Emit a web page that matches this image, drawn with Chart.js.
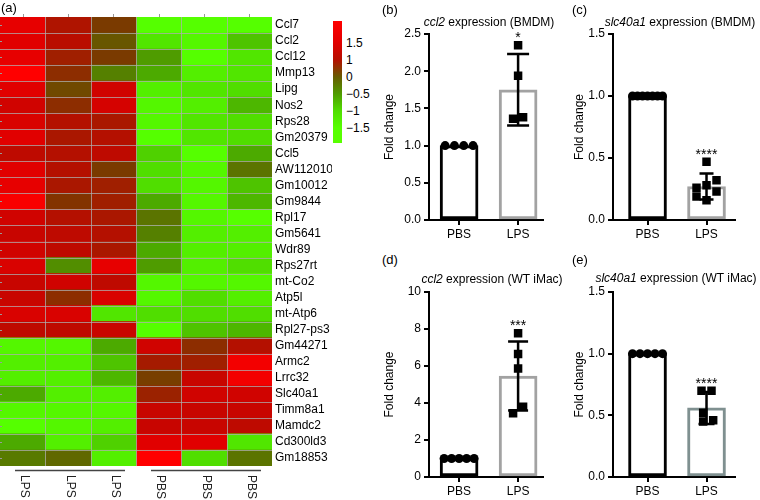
<!DOCTYPE html>
<html>
<head>
<meta charset="utf-8">
<script src="https://cdn.jsdelivr.net/npm/chart.js@4"></script>
<style>
  body { margin: 0; background: #fff; font-family: "Liberation Sans", Arial, sans-serif; }
  #wrap { position: relative; width: 760px; height: 500px; overflow: hidden; }
  canvas { position: absolute; }
  .txt { position: absolute; font-size: 12px; color: #000; white-space: nowrap; line-height: 14px; }
  .ttl { transform: translateX(-50%); }
  #cbar { position: absolute; left: 333px; top: 21px; width: 9px; height: 122px; }
</style>
</head>
<body>
<div id="wrap">
  <canvas id="heat" width="332" height="500" style="left:0;top:0"></canvas>
  <div id="cbar"></div>
</div>
<script>
// ---- heatmap data ----
const genes = ['Ccl7', 'Ccl2', 'Ccl12', 'Mmp13', 'Lipg', 'Nos2', 'Rps28', 'Gm20379', 'Ccl5',
  'AW112010', 'Gm10012', 'Gm9844', 'Rpl17', 'Gm5641', 'Wdr89', 'Rps27rt', 'mt-Co2', 'Atp5l',
  'mt-Atp6', 'Rpl27-ps3', 'Gm44271', 'Armc2', 'Lrrc32', 'Slc40a1', 'Timm8a1', 'Mamdc2',
  'Cd300ld3', 'Gm18853'];
const samples = ['LPS', 'LPS', 'LPS', 'PBS', 'PBS', 'PBS'];
const zScores = [
  [1.6, 0.95, 0.4, -1.4, -1.4, -1.4],
  [1.5, 1.05, 0.05, -1.1, -1.3, -0.8],
  [1.6, 0.8, 0.4, -0.5, -1.4, -1.1],
  [2.0, 0.6, -0.3, -0.6, -1.2, -1.1],
  [1.5, 0.2, 1.3, -1.2, -1.1, -1.0],
  [1.3, 0.6, 1.35, -1.3, -1.2, -0.7],
  [1.4, 1.0, 0.9, -1.3, -1.1, -1.0],
  [1.5, 0.9, 1.0, -1.4, -1.1, -1.0],
  [1.1, 1.0, 1.1, -0.9, -1.4, -0.6],
  [1.5, 1.0, 0.4, -1.0, -1.3, -0.2],
  [1.6, 0.9, 0.8, -1.0, -1.3, -0.8],
  [1.9, 0.5, 0.8, -0.6, -1.3, -0.7],
  [1.3, 1.0, 0.9, -0.2, -1.3, -1.5],
  [1.2, 1.1, 1.0, -0.3, -1.2, -1.2],
  [1.3, 1.1, 0.9, -0.6, -1.2, -1.2],
  [1.4, -0.4, 1.6, -0.5, -1.2, -1.0],
  [1.2, 1.3, 1.1, -1.3, -1.3, -1.3],
  [1.2, 0.6, 1.4, -1.3, -1.0, -1.2],
  [1.4, 1.4, -1.1, -1.0, -1.0, -1.0],
  [1.1, 1.1, 1.2, -1.4, -0.8, -0.7],
  [-1.3, -1.3, -0.6, 1.3, 0.6, 1.0],
  [-1.2, -1.2, -0.8, 0.85, 0.8, 1.8],
  [-1.2, -1.2, -0.7, 0.35, 1.2, 1.8],
  [-0.6, -1.2, -1.2, 0.75, 1.3, 1.3],
  [-1.3, -1.3, -1.3, 1.2, 1.2, 1.2],
  [-1.4, -1.3, -1.2, 1.2, 1.2, 1.1],
  [-0.6, -1.2, -0.9, 1.5, 1.5, -1.1],
  [-0.25, -0.1, -1.2, 2.0, -1.0, -0.2]
];
const colorbarTicks = [1.5, 1, 0, -0.5, -1, -1.5];

// ---- qPCR bar panels ----
const groups = ['PBS', 'LPS'];
const panelGenes = ['ccl2', 'slc40a1', 'ccl2', 'slc40a1'];
const panelCells = ['BMDM', 'BMDM', 'WT iMac', 'WT iMac'];
const ccl2BmdmPbs = [1, 1, 1, 1];
const ccl2BmdmLps = [2.35, 1.94, 1.36, 1.38];
const ccl2BmdmMean = [1, 1.75];
const ccl2BmdmSd = [0, 0.48];
const slcBmdmPbs = [1, 1, 1, 1, 1, 1, 1];
const slcBmdmLps = [0.47, 0.28, 0.23, 0.26, 0.32, 0.16, 0.19];
const slcBmdmMean = [1, 0.27];
const slcBmdmSd = [0, 0.105];
const ccl2ImacPbs = [1, 1, 1, 1, 1];
const ccl2ImacLps = [7.77, 6.65, 5.87, 3.44, 3.8];
const ccl2ImacMean = [1, 5.46];
const ccl2ImacSd = [0, 1.86];
const slcImacPbs = [1, 1, 1, 1, 1];
const slcImacLps = [0.70, 0.70, 0.52, 0.45, 0.46];
const slcImacMean = [1, 0.56];
const slcImacSd = [0, 0.13];
const significance = ['*', '****', '***', '****'];

const FONT = '"Liberation Sans", Arial, sans-serif';
const wrap = document.getElementById('wrap');

function addText(html, left, top, cls = '') {
  const d = document.createElement('div');
  d.className = 'txt ' + cls;
  d.style.left = left + 'px';
  d.style.top = top + 'px';
  d.innerHTML = html;
  wrap.appendChild(d);
  return d;
}

// colour scale for the heatmap (green - olive - brown - red)
const heatStops = [
  [-2.0, [88, 255, 0]], [-1.4, [85, 255, 0]], [-1.0, [80, 222, 0]], [-0.6, [76, 170, 0]],
  [-0.3, [85, 128, 0]], [0.1, [107, 80, 0]], [0.4, [122, 58, 0]], [0.7, [150, 38, 0]],
  [1.0, [180, 16, 0]], [1.2, [200, 5, 0]], [1.5, [225, 0, 0]], [2.0, [255, 0, 0]]
];
function heatColor(v) {
  if (v <= heatStops[0][0]) return 'rgb(' + heatStops[0][1] + ')';
  for (let i = 1; i < heatStops.length; i++) {
    const [v1, c1] = heatStops[i];
    const [v0, c0] = heatStops[i - 1];
    if (v <= v1) {
      const t = (v - v0) / (v1 - v0);
      return 'rgb(' + c0.map((c, k) => Math.round(c + (c1[k] - c) * t)).join(',') + ')';
    }
  }
  return 'rgb(' + heatStops[heatStops.length - 1][1] + ')';
}

// cell grid, edge ticks, group bars and rotated sample labels
const heatDecor = {
  id: 'heatDecor',
  afterDatasetsDraw(chart) {
    const { ctx, chartArea: a, scales: { x, y } } = chart;
    ctx.save();
    ctx.strokeStyle = 'rgba(175,175,175,0.75)';
    ctx.lineWidth = 1;
    ctx.beginPath();
    for (let c = 1; c < samples.length; c++) {
      const px = Math.round(x.getPixelForValue(c)) + 0.5;
      ctx.moveTo(px, a.top); ctx.lineTo(px, a.bottom);
    }
    for (let r = 0; r < genes.length - 1; r++) {
      const py = Math.round((y.getPixelForValue(r) + y.getPixelForValue(r + 1)) / 2) + 0.5;
      ctx.moveTo(a.left, py); ctx.lineTo(a.right, py);
    }
    ctx.stroke();
    ctx.strokeStyle = '#999';
    ctx.beginPath();
    samples.forEach((s, c) => {
      const px = Math.round(x.getPixelForValue(c + 0.5)) + 0.5;
      ctx.moveTo(px, a.top - 3); ctx.lineTo(px, a.top);
    });
    genes.forEach((g, r) => {
      const py = Math.round(y.getPixelForValue(r)) + 0.5;
      ctx.moveTo(a.left, py); ctx.lineTo(a.left + 2, py);
    });
    ctx.stroke();
    ctx.restore();
  },
  afterDraw(chart) {
    const { ctx, chartArea: a, scales: { x } } = chart;
    ctx.save();
    // one bar under each run of identical sample labels
    let start = 0;
    ctx.strokeStyle = '#444';
    ctx.lineWidth = 1.5;
    for (let c = 1; c <= samples.length; c++) {
      if (c === samples.length || samples[c] !== samples[start]) {
        const x0 = x.getPixelForValue(start) + 15;
        const x1 = x.getPixelForValue(c) - 11;
        ctx.beginPath();
        ctx.moveTo(x0, a.bottom + 4.5); ctx.lineTo(x1, a.bottom + 4.5);
        ctx.stroke();
        start = c;
      }
    }
    ctx.fillStyle = '#222';
    ctx.font = '12px ' + FONT;
    ctx.textAlign = 'left';
    ctx.textBaseline = 'middle';
    samples.forEach((s, c) => {
      ctx.save();
      ctx.translate(x.getPixelForValue(c + 0.5) + 2, a.bottom + 9);
      ctx.rotate(Math.PI / 2);
      ctx.fillText(s, 0, 0);
      ctx.restore();
    });
    ctx.restore();
  }
};

new Chart(document.getElementById('heat'), {
  type: 'bar',
  data: {
    labels: genes,
    datasets: samples.map((s, c) => ({
      label: s,
      data: genes.map(() => 1),
      backgroundColor: genes.map((g, r) => heatColor(zScores[r][c])),
      borderWidth: 0,
      barPercentage: 1,
      categoryPercentage: 1
    }))
  },
  options: {
    indexAxis: 'y',
    responsive: false,
    animation: false,
    layout: { padding: { top: 17, bottom: 34, left: 0, right: 0 } },
    scales: {
      x: { stacked: true, min: 0, max: samples.length, display: false },
      y: {
        stacked: true,
        position: 'right',
        grid: { display: false, drawTicks: false },
        border: { display: false },
        ticks: { autoSkip: false, color: '#000', font: { family: FONT, size: 12 }, padding: 3 },
        afterFit: (s) => { s.width = 60; }
      }
    },
    plugins: { legend: { display: false }, tooltip: { enabled: false } }
  },
  plugins: [heatDecor]
});

// colour bar legend
(function () {
  const labelY = colorbarTicks.map((t, i) => 22 + i * 17);   // evenly spaced, as in the figure
  const stops = ['rgb(255,0,0) 0%'];
  colorbarTicks.forEach((t, i) => stops.push(heatColor(t) + ' ' + (labelY[i] / 122 * 100).toFixed(1) + '%'));
  stops.push(heatColor(-2) + ' 100%');
  document.getElementById('cbar').style.background = 'linear-gradient(to bottom,' + stops.join(',') + ')';
  colorbarTicks.forEach((t, i) => {
    addText(String(t).replace('-', '\u2212'), 346, 21 + labelY[i] - 7);
  });
})();

addText('(a)', 1, 1, '').style.fontSize = '13px';

// ---- bar panels ----
// simple beeswarm: greedy placement, then each cluster of overlapping points is centred
function swarmOffsets(values, yMax, spacing) {
  if (values.every(v => v === values[0])) {
    return values.map((v, i) => (i - (values.length - 1) / 2) * spacing);
  }
  const near = yMax * 0.045;
  const placed = [];
  const offs = values.map(v => {
    for (let k = 0; k < 20; k++) {
      const off = (k % 2 ? 1 : -1) * Math.ceil(k / 2) * spacing || 0;
      if (!placed.some(p => Math.abs(p.o - off) < spacing * 0.9 && Math.abs(p.v - v) < near)) {
        placed.push({ o: off, v });
        return off;
      }
    }
    return 0;
  });
  const cluster = values.map((v, i) => i);
  const find = (i) => (cluster[i] === i ? i : (cluster[i] = find(cluster[i])));
  values.forEach((a, i) => values.forEach((b, j) => {
    if (j > i && Math.abs(a - b) < near) cluster[find(j)] = find(i);
  }));
  const sums = {};
  values.forEach((v, i) => {
    const r = find(i);
    sums[r] = sums[r] || { s: 0, n: 0 };
    sums[r].s += offs[i]; sums[r].n++;
  });
  return offs.map((o, i) => o - sums[find(i)].s / sums[find(i)].n);
}

const errorBars = {
  id: 'errorBars',
  afterDatasetsDraw(chart, args, o) {
    const { ctx, scales: { x, y } } = chart;
    ctx.save();
    ctx.strokeStyle = '#000';
    ctx.lineWidth = 2.5;
    o.mean.forEach((m, i) => {
      if (!o.sd[i]) return;
      const cx = x.getPixelForValue(i);
      const t = y.getPixelForValue(m + o.sd[i]);
      const b = y.getPixelForValue(m - o.sd[i]);
      ctx.beginPath();
      ctx.moveTo(cx, t); ctx.lineTo(cx, b);
      ctx.moveTo(cx - o.cap / 2, t); ctx.lineTo(cx + o.cap / 2, t);
      ctx.moveTo(cx - o.cap / 2, b); ctx.lineTo(cx + o.cap / 2, b);
      ctx.stroke();
    });
    // significance stars over the treated group
    const hi = Math.max(...o.points, o.mean[1] + o.sd[1]);
    ctx.fillStyle = '#000';
    ctx.font = '14px ' + FONT;
    ctx.textAlign = 'center';
    ctx.textBaseline = 'alphabetic';
    ctx.fillText(o.stars, x.getPixelForValue(1), y.getPixelForValue(hi) - 3);
    ctx.restore();
  }
};

const panels = [
  { tag: '(b)', pbs: ccl2BmdmPbs, lps: ccl2BmdmLps, mean: ccl2BmdmMean, sd: ccl2BmdmSd,
    yMax: 2.5, step: 0.5, dec: 1, lpsColor: '#a2a2a2', left: 380, plotTop: 34, plotBottom: 220,
    axisW: 49, xMin: -0.51, xMax: 1.42, width: 170, cap: 22, titleX: 489, titleY: 15 },
  { tag: '(c)', pbs: slcBmdmPbs, lps: slcBmdmLps, mean: slcBmdmMean, sd: slcBmdmSd,
    yMax: 1.5, step: 0.5, dec: 1, lpsColor: '#a2a2a2', left: 570, plotTop: 34, plotBottom: 220,
    axisW: 43, xMin: -0.585, xMax: 1.48, width: 190, cap: 14, titleX: 680, titleY: 15 },
  { tag: '(d)', pbs: ccl2ImacPbs, lps: ccl2ImacLps, mean: ccl2ImacMean, sd: ccl2ImacSd,
    yMax: 10, step: 2, dec: 0, lpsColor: '#a2a2a2', left: 380, plotTop: 292, plotBottom: 477,
    axisW: 49, xMin: -0.51, xMax: 1.42, width: 170, cap: 20, titleX: 492, titleY: 272 },
  { tag: '(e)', pbs: slcImacPbs, lps: slcImacLps, mean: slcImacMean, sd: slcImacSd,
    yMax: 1.5, step: 0.5, dec: 1, lpsColor: '#7f9090', left: 570, plotTop: 292, plotBottom: 477,
    axisW: 43, xMin: -0.585, xMax: 1.48, width: 190, cap: 16, titleX: 676, titleY: 271 }
];

panels.forEach((p, k) => {
  const padTop = 14, xAxisH = 25;
  const cv = document.createElement('canvas');
  cv.width = p.width;
  cv.height = (p.plotBottom - p.plotTop) + padTop + xAxisH;
  cv.style.left = p.left + 'px';
  cv.style.top = (p.plotTop - padTop) + 'px';
  wrap.appendChild(cv);

  addText(p.tag, p.left + 2, p.plotTop - (k < 2 ? 31 : 39)).style.fontSize = '13px';
  addText('<i>' + panelGenes[k] + '</i> expression (' + panelCells[k] + ')', p.titleX, p.titleY, 'ttl');

  const unit = 59;  // px per category on these axes
  const pbsStep = Math.min(9.3, 30 / (p.pbs.length - 1)) / unit;
  const pbsOff = swarmOffsets(p.pbs, p.yMax, pbsStep);
  const lpsOff = swarmOffsets(p.lps, p.yMax, 10 / unit);
  const tickFont = { family: FONT, size: 12 };

  new Chart(cv, {
    type: 'bar',
    data: {
      datasets: [
        {
          type: 'bar',
          data: groups.map((g, i) => ({ x: i, y: p.mean[i] })),
          backgroundColor: '#fff',
          borderColor: ['#000', p.lpsColor],
          borderWidth: 3,
          borderSkipped: false,
          barThickness: 38,
          order: 3
        },
        {
          type: 'scatter',
          data: p.pbs.map((v, i) => ({ x: 0 + pbsOff[i], y: v })),
          pointStyle: 'circle',
          pointRadius: 4.5,
          backgroundColor: '#000',
          borderColor: '#000',
          borderWidth: 0,
          order: 1
        },
        {
          type: 'scatter',
          data: p.lps.map((v, i) => ({ x: 1 + lpsOff[i], y: v })),
          pointStyle: 'rect',
          pointRadius: 6,
          backgroundColor: '#000',
          borderColor: '#000',
          borderWidth: 0,
          order: 2
        }
      ]
    },
    options: {
      responsive: false,
      animation: false,
      layout: { padding: { top: padTop, right: p.width - p.axisW - (p.xMax - p.xMin) * unit, left: 0, bottom: 0 } },
      scales: {
        x: {
          type: 'linear',
          offset: false,
          min: p.xMin,
          max: p.xMax,
          afterBuildTicks: (s) => { s.ticks = groups.map((g, i) => ({ value: i })); },
          ticks: { callback: (v) => groups[v], color: '#000', font: tickFont, padding: 2, maxRotation: 0, autoSkip: false },
          grid: { offset: false, drawOnChartArea: false, drawTicks: true, tickLength: 5, color: '#000', lineWidth: 2 },
          border: { color: '#000', width: 2 },
          afterFit: (s) => { s.height = xAxisH; }
        },
        y: {
          min: 0,
          max: p.yMax,
          ticks: { stepSize: p.step, callback: (v) => v.toFixed(p.dec), color: '#000', font: tickFont, padding: 3 },
          grid: { drawOnChartArea: false, drawTicks: true, tickLength: 5, color: '#000', lineWidth: 2 },
          border: { color: '#000', width: 2 },
          title: { display: true, text: 'Fold change', color: '#000', font: tickFont, padding: { top: 2, bottom: 0 } },
          afterFit: (s) => { s.width = p.axisW; }
        }
      },
      plugins: {
        legend: { display: false },
        tooltip: { enabled: false },
        errorBars: { mean: p.mean, sd: p.sd, cap: p.cap, points: p.lps, stars: significance[k] }
      }
    },
    plugins: [errorBars]
  });
});
</script>
</body>
</html>
